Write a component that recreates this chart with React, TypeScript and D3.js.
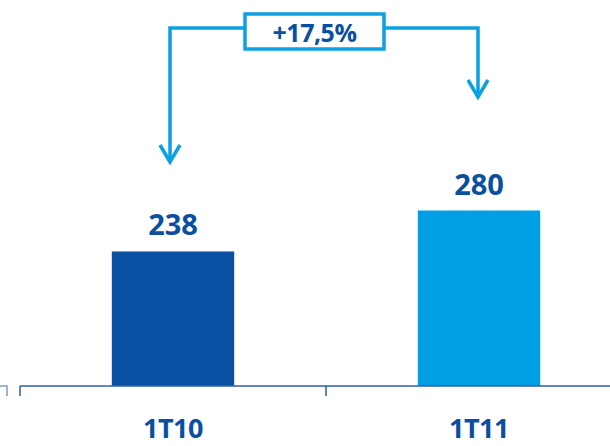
import { useRef, useEffect } from 'react';
import * as d3 from 'd3';

const categories = ['1T10', '1T11'];
const values = [238, 280];
const barColors = ['#0a50a2', '#009fe3'];
const changeLabel = '+17,5%';

const W = 610;
const H = 446;
const FONT = '"Open Sans", "Noto Sans", sans-serif';
const DARK = '#0b4fa0';
const LIGHT = '#0aa0e2';

export default function App() {
  const svgRef = useRef<SVGSVGElement>(null);

  useEffect(() => {
    if (!svgRef.current) return;
    const svg = d3.select(svgRef.current);
    svg.selectAll('*').remove();

    const baseY = 386;
    const x = d3.scaleBand<string>().domain(categories).range([20, 632]).padding(0);
    const y = d3.scaleLinear().domain([100, 300]).range([baseY, 191]);
    const barW = x.bandwidth() * 0.4;
    const cx = (c: string) => (x(c) ?? 0) + x.bandwidth() / 2;

    const data = categories.map((c, i) => ({ c, v: values[i], color: barColors[i] }));

    // bars
    svg.selectAll('.bar')
      .data(data)
      .join('rect')
      .attr('x', (d) => cx(d.c) - barW / 2)
      .attr('y', (d) => y(d.v))
      .attr('width', barW)
      .attr('height', (d) => baseY - y(d.v))
      .attr('fill', (d) => d.color);

    // value labels
    svg.selectAll('.val')
      .data(data)
      .join('text')
      .attr('x', (d) => cx(d.c))
      .attr('y', (d) => y(d.v) - 16)
      .attr('text-anchor', 'middle')
      .attr('font-family', FONT)
      .attr('font-weight', 700)
      .attr('font-size', 29)
      .attr('fill', DARK)
      .text((d) => d.v);

    // axis line + ticks at band boundaries
    const axis = svg.append('g').attr('stroke', '#2e5fa8').attr('stroke-width', 1.5).attr('fill', 'none');
    axis.append('line').attr('x1', 20).attr('x2', W).attr('y1', baseY).attr('y2', baseY);
    const bounds = categories.map((c) => x(c) ?? 0);
    axis.selectAll('.tick')
      .data(bounds)
      .join('line')
      .attr('x1', (d) => d)
      .attr('x2', (d) => d)
      .attr('y1', baseY)
      .attr('y2', baseY + 10);
    // fragment of the neighbouring axis at the left edge
    axis.append('path').attr('d', `M0,${baseY}H7V${baseY + 10}`).attr('stroke', '#7d9ccc');

    // category labels
    svg.selectAll('.cat')
      .data(categories)
      .join('text')
      .attr('x', (d) => cx(d))
      .attr('y', 438)
      .attr('text-anchor', 'middle')
      .attr('font-family', FONT)
      .attr('font-weight', 700)
      .attr('font-size', 27)
      .attr('letter-spacing', -0.5)
      .attr('fill', DARK)
      .text((d) => d);

    // growth annotation
    const lineY = 28;
    const boxX0 = 245;
    const boxX1 = 384;
    const leftX = cx(categories[0]) - 3;
    const rightX = cx(categories[1]) - 1;
    const ann = svg.append('g')
      .attr('stroke', LIGHT)
      .attr('stroke-width', 3.5)
      .attr('fill', 'none')
      .attr('stroke-linejoin', 'miter');
    ann.append('path').attr('d', `M${boxX0},${lineY}H${leftX}V162`);
    ann.append('path').attr('d', `M${leftX - 10},145L${leftX},162L${leftX + 10},145`);
    ann.append('path').attr('d', `M${boxX1},${lineY}H${rightX}V97`);
    ann.append('path').attr('d', `M${rightX - 10},80L${rightX},97L${rightX + 10},80`);
    ann.append('rect')
      .attr('x', boxX0)
      .attr('y', 14)
      .attr('width', boxX1 - boxX0)
      .attr('height', 35)
      .attr('fill', '#fff')
      .attr('stroke-width', 3.5);
    svg.append('text')
      .attr('x', (boxX0 + boxX1) / 2)
      .attr('y', 42)
      .attr('text-anchor', 'middle')
      .attr('font-family', FONT)
      .attr('font-weight', 700)
      .attr('font-size', 25)
      .attr('letter-spacing', -0.5)
      .attr('fill', DARK)
      .text(changeLabel);
  }, []);

  return (
    <svg
      ref={svgRef}
      width={W}
      height={H}
      style={{ position: 'absolute', left: 0, top: 0, background: '#fff' }}
    />
  );
}
